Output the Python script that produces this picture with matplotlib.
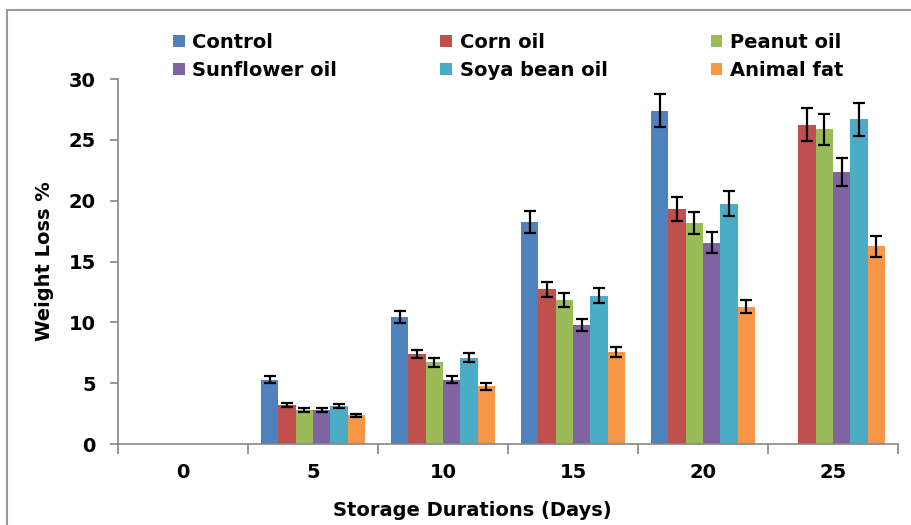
import numpy as np
import matplotlib
matplotlib.use("Agg")
import matplotlib.pyplot as plt
from matplotlib.patches import Rectangle

days = ["0", "5", "10", "15", "20", "25"]
series = ["Control", "Corn oil", "Peanut oil", "Sunflower oil", "Soya bean oil", "Animal fat"]
colors = ["#4F81BD", "#C0504D", "#9BBB59", "#8064A2", "#4BACC6", "#F79646"]

nan = np.nan
control = [nan, 5.3, 10.45, 18.25, 27.4, nan]
corn_oil = [nan, 3.2, 7.4, 12.7, 19.3, 26.25]
peanut_oil = [nan, 2.8, 6.7, 11.85, 18.2, 25.85]
sunflower_oil = [nan, 2.8, 5.3, 9.75, 16.55, 22.35]
soya_bean_oil = [nan, 3.1, 7.1, 12.2, 19.75, 26.7]
animal_fat = [nan, 2.35, 4.75, 7.55, 11.3, 16.25]

control_err = [nan, 0.25, 0.5, 0.9, 1.35, nan]
corn_oil_err = [nan, 0.18, 0.35, 0.65, 1.0, 1.35]
peanut_oil_err = [nan, 0.18, 0.4, 0.6, 0.9, 1.3]
sunflower_oil_err = [nan, 0.15, 0.3, 0.5, 0.85, 1.15]
soya_bean_oil_err = [nan, 0.18, 0.4, 0.6, 1.05, 1.35]
animal_fat_err = [nan, 0.12, 0.3, 0.4, 0.55, 0.85]

values = [control, corn_oil, peanut_oil, sunflower_oil, soya_bean_oil, animal_fat]
errors = [control_err, corn_oil_err, peanut_oil_err, sunflower_oil_err,
          soya_bean_oil_err, animal_fat_err]

plt.rcParams["font.family"] = "DejaVu Sans"
plt.rcParams["font.weight"] = "bold"

fig = plt.figure(figsize=(9.11, 5.25), dpi=100)
ax = fig.add_axes([118 / 911, 1 - 444 / 525, 780 / 911, 365 / 525])

x = np.arange(len(days))
width = 0.8 / len(series)
handles = []
for i, (name, vals, errs, col) in enumerate(zip(series, values, errors, colors)):
    pos = x - 0.4 + width * (i + 0.5)
    v = np.array(vals, dtype=float)
    e = np.array(errs, dtype=float)
    b = ax.bar(pos, np.nan_to_num(v), width, color=col, label=name, zorder=2)
    handles.append(b)
    ok = np.isfinite(v)
    ax.errorbar(pos[ok], v[ok], yerr=e[ok], fmt="none", ecolor="black",
                elinewidth=1.6, capsize=4.5, capthick=1.6, zorder=3)

ax.set_xlim(-0.5, len(days) - 0.5)
ax.set_ylim(0, 30)
ax.set_yticks([0, 5, 10, 15, 20, 25, 30])
ax.set_xticks(x)
ax.set_xticklabels(days)
ax.set_xticks(np.arange(-0.5, len(days)), minor=True)
ax.tick_params(axis="x", which="major", length=0, pad=14, labelsize=14)
ax.tick_params(axis="x", which="minor", length=7, color="#868686", width=1.2)
ax.tick_params(axis="y", length=6, color="#868686", width=1.2, labelsize=14, pad=10)
for s in ["top", "right"]:
    ax.spines[s].set_visible(False)
for s in ["left", "bottom"]:
    ax.spines[s].set_color("#868686")
    ax.spines[s].set_linewidth(1.2)

ax.set_xlabel("Storage Durations (Days)", fontsize=14, fontweight="bold")
ax.set_ylabel("Weight Loss %", fontsize=14, fontweight="bold")
ax.xaxis.set_label_coords((472 - 118) / 780, -57 / 365)
ax.yaxis.set_label_coords(-64 / 780, 0.5)

order = [0, 3, 1, 4, 2, 5]
fig.legend([handles[i] for i in order], [series[i] for i in order],
           ncol=3, loc="upper left", bbox_to_anchor=(173 / 911, 1 - 33 / 525),
           frameon=False, fontsize=14, handlelength=0.6, handleheight=0.6,
           handletextpad=0.4, columnspacing=5.3, labelspacing=0.45,
           borderaxespad=0, borderpad=0)

fig.patches.append(Rectangle((7 / 911, -0.05), 1.2, 1 - 10 / 525 + 0.05,
                             transform=fig.transFigure, fill=False,
                             edgecolor="#9a9a9a", linewidth=1.5))

fig.savefig("out.png", dpi=100)
